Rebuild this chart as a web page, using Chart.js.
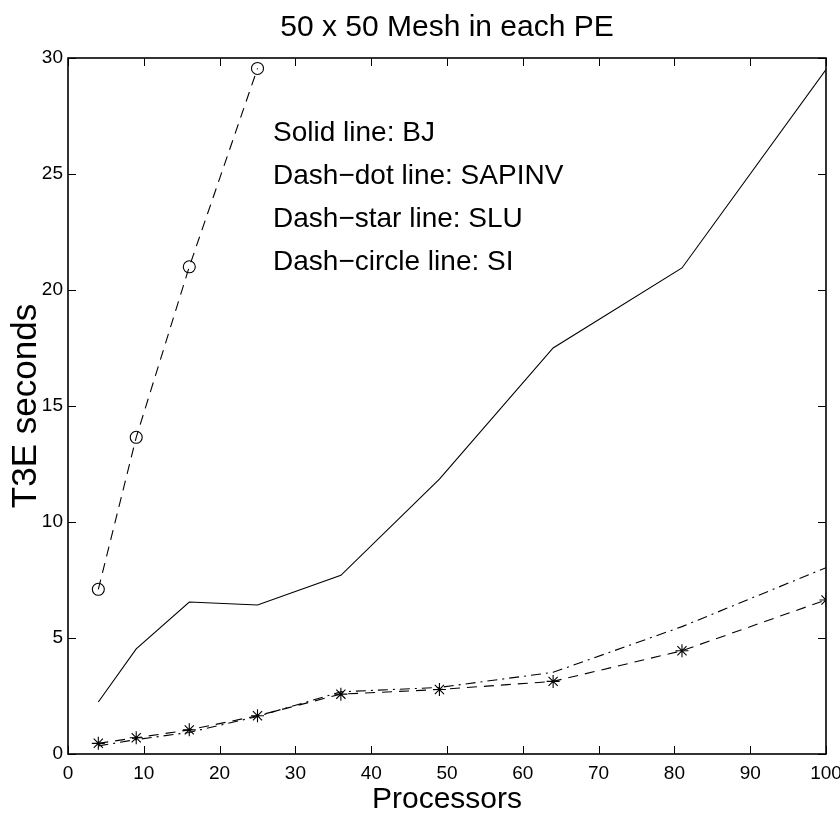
<!DOCTYPE html>
<html>
<head>
<meta charset="utf-8">
<script src="https://cdn.jsdelivr.net/npm/chart.js@4/dist/chart.umd.min.js"></script>
<style>
html, body { margin: 0; padding: 0; background: #fff; }
#c { display: block; }
</style>
</head>
<body>
<canvas id="c" width="840" height="817"></canvas>
<script>
// ---- data ----
const processors = [4, 9, 16, 25, 36, 49, 64, 81, 100];
const bj     = [2.24, 4.53, 6.55, 6.42, 7.70, 11.85, 17.50, 20.95, 29.50];
const sapinv = [0.35, 0.62, 0.93, 1.62, 2.68, 2.87, 3.52, 5.49, 8.03];
const slu    = [0.46, 0.70, 1.04, 1.65, 2.58, 2.78, 3.13, 4.45, 6.64];
const siProcessors = [4, 9, 16, 25];
const si     = [7.10, 13.65, 21.00, 29.55];
const xTicks = [0, 10, 20, 30, 40, 50, 60, 70, 80, 90, 100];
const yTicks = [0, 5, 10, 15, 20, 25, 30];
const titleText = '50 x 50 Mesh in each PE';
const xLabel = 'Processors';
const yLabel = 'T3E seconds';
const notes = ['Solid line: BJ', 'Dash\u2212dot line: SAPINV', 'Dash\u2212star line: SLU', 'Dash\u2212circle line: SI'];

const pts = (xs, ys) => xs.map((x, i) => ({x: x, y: ys[i]}));

const REG = "'Liberation Sans', Arial, Helvetica, sans-serif";

const framePlugin = {
  id: 'frame',
  afterDatasetsDraw(chart) {
    const {ctx, chartArea: a, scales: {x, y}} = chart;
    ctx.save();
    ctx.strokeStyle = '#000';
    ctx.lineWidth = 1;
    ctx.beginPath();
    const tl = 8;
    xTicks.forEach(v => {
      const px = Math.round(x.getPixelForValue(v)) + 0.5;
      ctx.moveTo(px, a.bottom); ctx.lineTo(px, a.bottom - tl);
      ctx.moveTo(px, a.top); ctx.lineTo(px, a.top + tl);
    });
    yTicks.forEach(v => {
      const py = Math.round(y.getPixelForValue(v)) + 0.5;
      ctx.moveTo(a.left, py); ctx.lineTo(a.left + tl, py);
      ctx.moveTo(a.right, py); ctx.lineTo(a.right - tl, py);
    });
    ctx.stroke();
    ctx.lineWidth = 1.6;
    ctx.strokeRect(a.left, a.top, a.right - a.left, a.bottom - a.top);
    // annotation text
    ctx.fillStyle = '#000';
    ctx.font = '28px ' + REG;
    ctx.textAlign = 'left';
    ctx.textBaseline = 'alphabetic';
    const nx = x.getPixelForValue(27.05);
    const ny = y.getPixelForValue(26.42);
    notes.forEach((t, i) => ctx.fillText(t, nx, ny + i * 43));
    ctx.restore();
  }
};

new Chart(document.getElementById('c'), {
  type: 'line',
  data: {
    datasets: [
      { label: 'BJ', data: pts(processors, bj), borderColor: '#000', borderWidth: 1.1,
        pointRadius: 0, fill: false, tension: 0 },
      { label: 'SAPINV', data: pts(processors, sapinv), borderColor: '#000', borderWidth: 1.1,
        borderDash: [10, 5, 2, 5], pointRadius: 0, fill: false, tension: 0 },
      { label: 'SLU', data: pts(processors, slu), borderColor: '#000', borderWidth: 1.1,
        borderDash: [10, 7], pointStyle: 'star', pointRadius: 6.5, pointBorderWidth: 1.1,
        pointBorderColor: '#000', pointBackgroundColor: 'transparent', fill: false, tension: 0 },
      { label: 'SI', data: pts(siProcessors, si), borderColor: '#000', borderWidth: 1.1,
        borderDash: [10, 7], pointStyle: 'circle', pointRadius: 6, pointBorderWidth: 1.1,
        pointBorderColor: '#000', pointBackgroundColor: 'transparent', fill: false, tension: 0 }
    ]
  },
  options: {
    responsive: false,
    animation: false,
    devicePixelRatio: 1,
    layout: { padding: { left: 0, right: 14, top: 0, bottom: 0 } },
    plugins: {
      legend: { display: false },
      tooltip: { enabled: false },
      title: {
        display: true, text: titleText, fullSize: false, color: '#000',
        font: { family: REG, size: 30, weight: 'normal', lineHeight: 1.2 },
        padding: { top: 10, bottom: 12 }
      }
    },
    scales: {
      x: {
        type: 'linear', min: 0, max: 100,
        grid: { display: false, drawTicks: false },
        border: { display: false },
        afterBuildTicks: s => { s.ticks = xTicks.map(v => ({value: v})); },
        ticks: { color: '#000', padding: 8, maxRotation: 0, autoSkip: false,
                 font: { family: REG, size: 19 } },
        title: { display: true, text: xLabel, color: '#000',
                 font: { family: REG, size: 30, lineHeight: 1 },
                 padding: { top: 0, bottom: 2 } },
        afterFit: s => { s.height = 63; s.paddingLeft = 0; s.paddingRight = 0; }
      },
      y: {
        type: 'linear', min: 0, max: 30,
        grid: { display: false, drawTicks: false },
        border: { display: false },
        afterBuildTicks: s => { s.ticks = yTicks.map(v => ({value: v})); },
        ticks: { color: '#000', padding: 5, autoSkip: false,
                 font: { family: REG, size: 19 } },
        title: { display: true, text: yLabel, color: '#000',
                 font: { family: REG, size: 35, lineHeight: 1 },
                 padding: { top: 9, bottom: 0 } },
        afterFit: s => { s.width = 68; s.paddingTop = 0; s.paddingBottom = 0; }
      }
    }
  },
  plugins: [framePlugin]
});
</script>
</body>
</html>
